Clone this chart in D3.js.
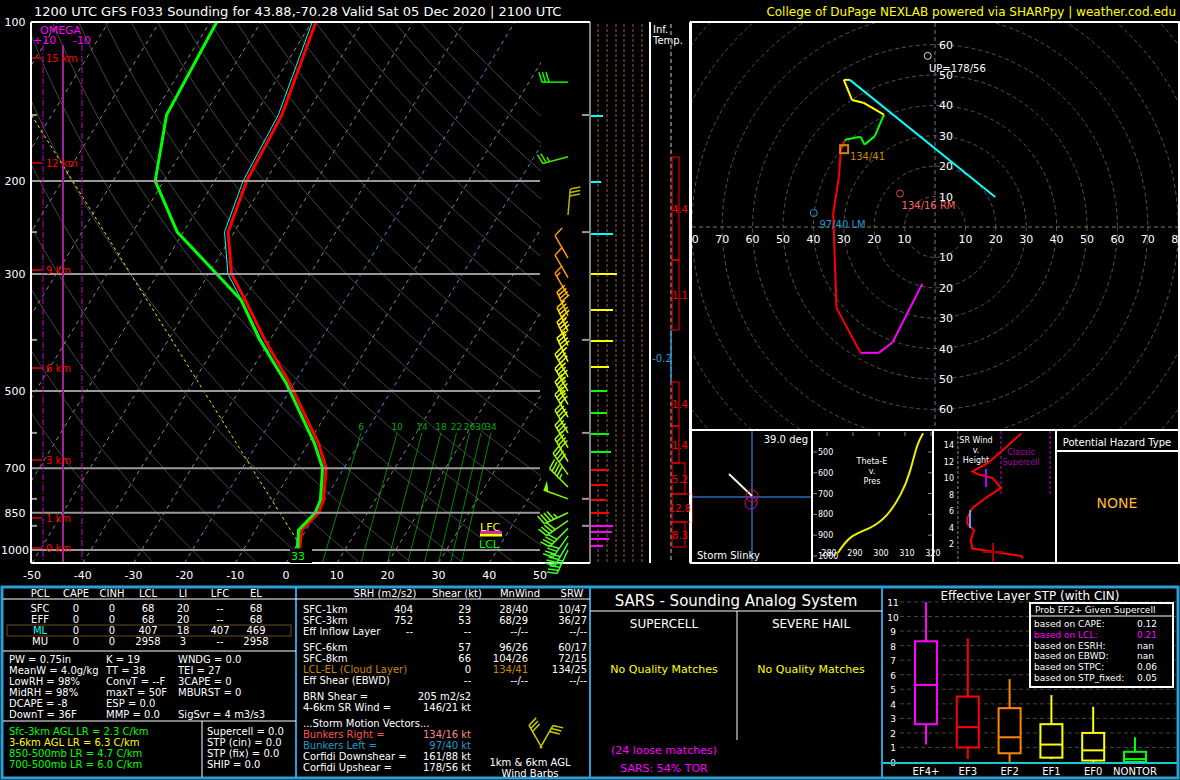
<!DOCTYPE html>
<html><head><meta charset="utf-8">
<script src="https://cdn.jsdelivr.net/npm/d3@7"></script>
<style>body{margin:0;background:#000}svg{display:block}text{font-family:"DejaVu Sans",sans-serif}</style>
</head><body>
<svg id="c" width="1180" height="780"></svg>
<script>
// sounding profile (mb, degC)
var pres   = [990, 986, 917, 850, 804, 700, 628, 483, 400, 336, 300, 250, 200, 150, 100];
var temp   = [0.6, 0.8, -0.9, 0.4, -0.2, -3.5, -8, -20.9, -31, -39.7, -45.5, -51.2, -53.7, -54.7, -59.2];
var dwpt   = [0.2, 0.4, -1.5, -0.3, -0.8, -4.2, -8.8, -21.6, -32, -40.5, -48.4, -61.2, -71.7, -77.4, -78.7];
var parcelP = [979, 150];
var parcelT = [0.6, -104];
// hodograph (mb, u, v kt) and colour per segment
var windP = [1000, 950, 900, 850, 700, 600, 550, 500, 470, 450, 420, 400, 370, 320, 290, 260, 230, 200, 100];
var windU = [-4.2, -14, -18.5, -24.5, -32.4, -33.5, -31.6, -31, -29.7, -29.3, -24.5, -23.2, -19.8, -16.8, -23.6, -27.3, -30, -28, 19.8];
var windV = [-18.7, -38, -41.4, -41.4, -26.6, 4.4, 16.5, 25.3, 28.4, 28.8, 29.7, 27.1, 29.9, 37, 40.9, 41.8, 48.4, 48.4, 9.9];
var windC = ["#f0f","#f0f","#f0f","#f0f","red","red","red","red","red","#0f0","#0f0","#0f0","#0f0","#0f0","yellow","yellow","yellow","yellow","cyan"];
// wind barbs as drawn on the skew-T (mb, staff angle deg clockwise from up, kt)
var barbP   = [130, 180, 232, 280, 305, 330, 360, 385, 410, 440, 470, 500, 530, 560, 600, 640, 680, 720, 760, 800, 850, 880, 910, 940, 970, 1000];
var barbAng = [270, 255, 5, 330, 330, 330, 335, 335, 335, 335, 330, 330, 330, 330, 330, 330, 330, 325, 315, 290, 245, 235, 225, 215, 210, 205];
var barbSpd = [30, 25, 30, 10, 10, 15, 40, 45, 45, 45, 45, 45, 45, 40, 40, 40, 40, 40, 45, 50, 45, 40, 40, 40, 40, 45];
var heightKm = [0, 1, 3, 6, 9, 12, 15];
var heightY  = [548, 518, 460, 368, 270, 163, 58];
// theta-e profile
var teP = [985, 900, 870, 815, 700, 600, 460, 410];
var teK = [284.2, 288.8, 296.5, 303, 308.8, 312, 314.6, 317];
// SR wind vs height
var srH = [0.3, 0.6, 1.5, 2.5, 3.7, 4.5, 5.2, 6.4, 7.9, 8.8, 10, 10.5, 10.8, 11.8, 13.2, 15.4];
var srS = [51, 50, 21, 20, 22, 18, 18, 21, 31, 38, 33, 24, 21, 30, 38, 50];
// STP box plots
var efCats = ["EF4+", "EF3", "EF2", "EF1", "EF0", "NONTOR"];
var efLo  = [1.2, 0.2, 0, 0.2, 0, 0];
var efQ1  = [2.6, 1.0, 0.6, 0.3, 0.1, 0];
var efMed = [5.3, 2.4, 1.7, 1.2, 0.8, 0.2];
var efQ3  = [8.3, 4.5, 3.7, 2.6, 2.0, 0.7];
var efHi  = [11, 8.5, 5.7, 4.6, 3.8, 1.7];
var efCol = ["#f0f", "red", "#f80", "yellow", "yellow", "#0f0"];
// inferred temp advection layers (pixel rows of the column)
var advVal = ["4.4", "1.1", "-0.2", "1.4", "1.4", "5.2", "12.8", "8.3"];
var advTopAll = [157, 260, 330, 382, 426, 463, 494, 522];
var advBotAll = [260, 330, 382, 426, 463, 494, 522, 547];
var advW = [7, 7, 0, 7, 7, 13, 20, 13];
// parcel column ticks
var tickY = [116, 182, 234, 274, 310, 341, 367, 391, 413, 434, 452, 470, 485, 500, 513, 526, 532, 539, 546];
var tickL = [12, 10, 22, 26, 22, 22, 18, 16, 16, 18, 20, 18, 16, 15, 18, 22, 21, 18, 12];
var tickC = ["cyan","cyan","cyan","yellow","yellow","yellow","yellow","#0f0","#0f0","#0f0","#0f0","red","red","red","red","#f0f","#f0f","#f0f","#f0f"];

var svg = d3.select("#c");
svg.append("rect").attr("width",1180).attr("height",780).attr("fill","#000");
function txt(g, x, y, s, col, size, anchor) {
  return g.append("text").attr("x",x).attr("y",y).text(s).attr("fill",col||"#fff")
    .attr("font-size",size||11).attr("text-anchor",anchor||"start");
}
txt(svg, 34, 16, "1200 UTC GFS F033 Sounding for 43.88,-70.28 Valid  Sat 05 Dec 2020 | 2100 UTC", "#fff", 13);
txt(svg, 1176, 16, "College of DuPage NEXLAB powered via SHARPpy | weather.cod.edu", "#ff0", 12, "end");

// ---------- skew-T ----------
var yP = d3.scaleLog().domain([100, 1000]).range([22, 550]);
var xT = d3.scaleLinear().domain([-50, 50]).range([32, 540]);
var skew = 0.611, baseY = 563;
function sx(t, p) { return xT(t) + skew * (baseY - yP(p)); }
var sk = svg.append("g");
sk.append("defs").append("clipPath").attr("id","skc").append("rect").attr("x",31).attr("y",22).attr("width",510).attr("height",541);
var skc = sk.append("g").attr("clip-path","url(#skc)");
var pLev = d3.range(100, 1060, 10);
d3.range(-160, 60, 10).forEach(function(t) {
  skc.append("line").attr("x1",sx(t,1058)).attr("y1",baseY).attr("x2",sx(t,100)).attr("y2",22)
    .attr("stroke", (t==0||t==-20) ? "#3a8fd8" : "#888").attr("stroke-dasharray","4,4").attr("stroke-width",1);
});
d3.range(-30, 200, 10).forEach(function(th) {
  var line = d3.line().x(function(p){ return sx((th+273.15)*Math.pow(p/1000,0.286)-273.15, p); }).y(function(p){ return yP(p); });
  skc.append("path").attr("d", line(pLev)).attr("fill","none").attr("stroke","#555").attr("stroke-width",0.8);
});
var mixW = [6, 10, 14, 18, 22, 26, 30, 34];
function tmix(w, p) { var e = w*p/(622+w); var l = Math.log(e/6.112); return 243.5*l/(17.67-l); }
mixW.forEach(function(w) {
  skc.append("line").attr("x1",sx(tmix(w,1058),1058)).attr("y1",baseY).attr("x2",sx(tmix(w,600),600)).attr("y2",yP(600))
    .attr("stroke","#0a0").attr("stroke-width",0.8);
  txt(skc, sx(tmix(w,600),600), yP(600)-3, w, "#0a0", 9, "middle");
});
[100, 200, 300, 500, 700, 850, 1000].forEach(function(p) {
  sk.append("line").attr("x1",31).attr("x2",540).attr("y1",yP(p)).attr("y2",yP(p)).attr("stroke","#999").attr("stroke-width",2);
  txt(sk, 15, yP(p)+4, p, "#fff", 11, "middle");
});
[150, 250, 400, 600, 800, 900].forEach(function(p) {
  sk.append("line").attr("x1",31).attr("x2",37).attr("y1",yP(p)).attr("y2",yP(p)).attr("stroke","#999").attr("stroke-width",2);
  sk.append("line").attr("x1",582).attr("x2",589).attr("y1",yP(p)).attr("y2",yP(p)).attr("stroke","#999").attr("stroke-width",2);
});
sk.append("line").attr("x1",63).attr("x2",63).attr("y1",45).attr("y2",563).attr("stroke","#a020a0").attr("stroke-width",2);
[43, 82].forEach(function(x){ sk.append("line").attr("x1",x).attr("x2",x).attr("y1",45).attr("y2",563).attr("stroke","#c0c").attr("stroke-dasharray","6,2,1,2"); });
txt(sk, 40, 34, "OMEGA", "#f0f", 11);
txt(sk, 33, 44, "+10", "#f0f", 11); txt(sk, 73, 44, "-10", "#f0f", 11);
heightKm.forEach(function(h, i) {
  sk.append("line").attr("x1",31).attr("x2",42).attr("y1",heightY[i]).attr("y2",heightY[i]).attr("stroke","#a00").attr("stroke-width",2);
  txt(sk, 46, heightY[i]+4, h + " km", "red", 10);
});
skc.append("path").attr("d", d3.line().x(function(d,i){return sx(parcelT[i],d);}).y(function(d){return yP(d);})(parcelP))
  .attr("fill","none").attr("stroke","#ee0").attr("stroke-dasharray","3,3");
var prof = d3.line().x(function(d){return sx(d[1],d[0]);}).y(function(d){return yP(d[0]);});
skc.append("path").attr("d", prof(pres.map(function(p,i){return [p,temp[i]];}))).attr("fill","none").attr("stroke","red").attr("stroke-width",3);
skc.append("path").attr("d", prof(pres.map(function(p,i){return [p,temp[i]-0.7];}))).attr("fill","none").attr("stroke","cyan").attr("stroke-width",1);
skc.append("path").attr("d", prof(pres.map(function(p,i){return [p,dwpt[i]];}))).attr("fill","none").attr("stroke","#0f0").attr("stroke-width",3);
sk.append("line").attr("x1",31).attr("x2",590).attr("y1",22).attr("y2",22).attr("stroke","#fff").attr("stroke-width",2);
sk.append("line").attr("x1",31).attr("x2",31).attr("y1",22).attr("y2",563).attr("stroke","#fff").attr("stroke-width",2);
sk.append("line").attr("x1",31).attr("x2",590).attr("y1",563).attr("y2",563).attr("stroke","#fff").attr("stroke-width",2);
d3.range(-50, 60, 10).forEach(function(t){ txt(sk, xT(t), 579, t, "#fff", 11, "middle"); });
sk.append("rect").attr("x",290).attr("y",549).attr("width",22).attr("height",14).attr("fill","#000");
txt(sk, 298, 560, "33", "#0f0", 11, "middle");
sk.append("line").attr("x1",480).attr("x2",502).attr("y1",535).attr("y2",535).attr("stroke","#ff0").attr("stroke-width",3);
sk.append("line").attr("x1",480).attr("x2",502).attr("y1",532).attr("y2",532).attr("stroke","#f0f").attr("stroke-width",2);
txt(sk, 480, 531, "LFC", "#ff0", 11); txt(sk, 479, 548, "LCL", "#0f0", 11);
// wind barb: staff from station along angle, barbs at far end on clockwise side
function barb(g, x, y, angDeg, spd, col) {
  var a = angDeg*Math.PI/180, dx = Math.sin(a), dy = -Math.cos(a), L = 26;
  var ex = x + dx*L, ey = y + dy*L, px = -dy, py = dx;
  g.append("line").attr("x1",x).attr("y1",y).attr("x2",ex).attr("y2",ey).attr("stroke",col).attr("stroke-width",1.5);
  var s = Math.round(spd/5)*5, pos = 0;
  while (s >= 50) { var bx = ex - dx*pos, by = ey - dy*pos;
    g.append("path").attr("d","M"+bx+","+by+"L"+(bx+px*10)+","+(by+py*10)+"L"+(bx-dx*5)+","+(by-dy*5)+"Z").attr("fill",col); s -= 50; pos += 6; }
  while (s >= 10) { var bx2 = ex - dx*pos, by2 = ey - dy*pos;
    g.append("line").attr("x1",bx2).attr("y1",by2).attr("x2",bx2+px*10+dx*3).attr("y2",by2+py*10+dy*3).attr("stroke",col).attr("stroke-width",1.5); s -= 10; pos += 3.5; }
  if (s >= 5) { var bx3 = ex - dx*pos, by3 = ey - dy*pos;
    g.append("line").attr("x1",bx3).attr("y1",by3).attr("x2",bx3+px*5+dx*1.5).attr("y2",by3+py*5+dy*1.5).attr("stroke",col).attr("stroke-width",1.5); }
}
var barbCol = d3.scaleLinear().domain([1000, 800, 600, 420, 330, 260, 150]).range(["#3f3", "#8f0", "#bf0", "#ff0", "#f90", "#f90", "#0f0"]);
barbP.forEach(function(p, i){ barb(sk, 568, yP(p), barbAng[i], barbSpd[i], barbCol(p)); });

// ---------- side columns ----------
var sc = svg.append("g");
[590, 650, 690].forEach(function(x){ sc.append("line").attr("x1",x).attr("x2",x).attr("y1",22).attr("y2",563).attr("stroke","#fff").attr("stroke-width",x==590?1:2); });
[598, 607, 616, 624, 633, 642].forEach(function(x){ sc.append("line").attr("x1",x).attr("x2",x).attr("y1",24).attr("y2",562).attr("stroke","#6a3d24").attr("stroke-dasharray","3,2").attr("stroke-width",1.5); });
tickY.forEach(function(y, i){ sc.append("line").attr("x1",591).attr("x2",591+tickL[i]).attr("y1",y).attr("y2",y).attr("stroke",tickC[i]).attr("stroke-width",2); });
txt(sc, 653, 33, "Inf.", "#fff", 10); txt(sc, 653, 44, "Temp.", "#fff", 10);
sc.append("line").attr("x1",671).attr("x2",671).attr("y1",24).attr("y2",562).attr("stroke","#888").attr("stroke-dasharray","4,3").attr("stroke-width",1.5);
advVal.forEach(function(v, i){
  if (advW[i] == 0) {
    sc.append("line").attr("x1",671).attr("x2",671).attr("y1",advTopAll[i]).attr("y2",advBotAll[i]).attr("stroke","#39c").attr("stroke-width",1.5);
    txt(sc, 662, 362, v, "#39c", 10, "middle");
    return;
  }
  sc.append("rect").attr("x",672).attr("y",advTopAll[i]).attr("width",advW[i]).attr("height",advBotAll[i]-advTopAll[i]).attr("fill","none").attr("stroke","red");
  txt(sc, 680, (advTopAll[i]+advBotAll[i])/2+4, v, "red", 10, "middle");
});

// ---------- hodograph ----------
var hg = svg.append("g");
var hx0 = 935, hy0 = 227, kt = 3.04;
hg.append("defs").append("clipPath").attr("id","hc").append("rect").attr("x",692).attr("y",23).attr("width",486).attr("height",406);
var hc = hg.append("g").attr("clip-path","url(#hc)");
d3.range(10, 130, 10).forEach(function(r){ hc.append("circle").attr("cx",hx0).attr("cy",hy0).attr("r",r*kt).attr("fill","none").attr("stroke","#555").attr("stroke-dasharray","4,3"); });
hc.append("line").attr("x1",692).attr("x2",1178).attr("y1",hy0).attr("y2",hy0).attr("stroke","#777").attr("stroke-dasharray","4,3");
hc.append("line").attr("x1",hx0).attr("x2",hx0).attr("y1",23).attr("y2",429).attr("stroke","#777").attr("stroke-dasharray","4,3");
d3.range(10, 90, 10).forEach(function(r){
  txt(hc, hx0 - r*kt, hy0+16, r, "#fff", 11, "middle"); txt(hc, hx0 + r*kt, hy0+16, r, "#fff", 11, "middle");
  if (r <= 60) { txt(hc, hx0+4, hy0 - r*kt + 4, r, "#fff", 11); txt(hc, hx0+4, hy0 + r*kt + 4, r, "#fff", 11); }
});
for (var i = 0; i < windP.length-1; i++) {
  hc.append("line").attr("x1",hx0+windU[i]*kt).attr("y1",hy0-windV[i]*kt).attr("x2",hx0+windU[i+1]*kt).attr("y2",hy0-windV[i+1]*kt)
    .attr("stroke", windC[i+1]).attr("stroke-width",2);
}
hc.append("circle").attr("cx",hx0-2.4*kt).attr("cy",hy0-56.3*kt).attr("r",3.5).attr("fill","none").attr("stroke","#ddd");
txt(hc, hx0-2*kt, hy0-51*kt, "UP=178/56", "#fff", 10);
hc.append("circle").attr("cx",hx0-11.5*kt).attr("cy",hy0-11*kt).attr("r",3.5).attr("fill","none").attr("stroke","#d44");
txt(hc, hx0-11*kt, hy0-6*kt, "134/16 RM", "#f66", 10);
hc.append("circle").attr("cx",hx0-39.9*kt).attr("cy",hy0-4.6*kt).attr("r",3.5).attr("fill","none").attr("stroke","#29c");
txt(hc, hx0-38*kt, hy0+1, "97/40 LM", "#29c", 10);
hc.append("rect").attr("x",hx0-29.9*kt-4).attr("y",hy0-25.6*kt-4).attr("width",8).attr("height",8).attr("fill","none").attr("stroke","#c80").attr("stroke-width",2);
txt(hc, hx0-28*kt, hy0-22*kt, "134/41", "#c80", 10);
hg.append("rect").attr("x",691).attr("y",22).attr("width",488).attr("height",408).attr("fill","none").attr("stroke","#fff").attr("stroke-width",2);

// ---------- small panels ----------
var sp = svg.append("g");
sp.append("rect").attr("x",691).attr("y",430).attr("width",488).attr("height",133).attr("fill","none").attr("stroke","#fff").attr("stroke-width",2);
[812, 933, 1056].forEach(function(x){ sp.append("line").attr("x1",x).attr("x2",x).attr("y1",430).attr("y2",563).attr("stroke","#fff").attr("stroke-width",2); });
sp.append("line").attr("x1",692).attr("x2",811).attr("y1",497).attr("y2",497).attr("stroke","#1d4f8f").attr("stroke-width",2);
sp.append("line").attr("x1",752).attr("x2",752).attr("y1",431).attr("y2",562).attr("stroke","#1d4f8f").attr("stroke-width",2);
sp.append("line").attr("x1",729).attr("x2",752).attr("y1",474).attr("y2",496).attr("stroke","#eee").attr("stroke-width",2);
sp.append("circle").attr("cx",752).attr("cy",496).attr("r",6).attr("fill","none").attr("stroke","red");
sp.append("circle").attr("cx",751).attr("cy",503).attr("r",6).attr("fill","none").attr("stroke","#c0c");
txt(sp, 808, 443, "39.0 deg", "#fff", 10, "end"); txt(sp, 697, 559, "Storm Slinky", "#fff", 10);
var tx = d3.scaleLinear().domain([280, 320]).range([827, 931]);
var tp = d3.scaleLinear().domain([500, 1000]).range([452, 556]);
[500, 600, 700, 800, 900, 1000].forEach(function(p){
  txt(sp, 818, tp(p)+3, p, "#fff", 8);
  sp.append("line").attr("x1",813).attr("x2",817).attr("y1",tp(p)).attr("y2",tp(p)).attr("stroke","#888");
  sp.append("line").attr("x1",928).attr("x2",932).attr("y1",tp(p)).attr("y2",tp(p)).attr("stroke","#888");
});
[280, 290, 300, 310, 320].forEach(function(k){ txt(sp, tx(k)+2, 556, k, "#fff", 8, "middle"); sp.append("line").attr("x1",tx(k)).attr("x2",tx(k)).attr("y1",432).attr("y2",436).attr("stroke","#888"); });
sp.append("path").attr("d", d3.line().curve(d3.curveBasis).x(function(d,i){return tx(teK[i]);}).y(function(d){return tp(d);})(teP)).attr("fill","none").attr("stroke","#ee0").attr("stroke-width",2);
txt(sp, 872, 464, "Theta-E", "#fff", 8, "middle"); txt(sp, 872, 474, "v.", "#fff", 8, "middle"); txt(sp, 872, 484, "Pres", "#fff", 8, "middle");
var wx = d3.scaleLinear().domain([0, 70]).range([937, 1055]);
var wy = d3.scaleLinear().domain([0, 14]).range([561, 445]);
[2,4,6,8,10,12,14].forEach(function(h){ txt(sp, 954, wy(h)+3, h, "#fff", 8, "end"); });
sp.append("line").attr("x1",wx(12.4)).attr("x2",wx(12.4)).attr("y1",431).attr("y2",562).attr("stroke","#888").attr("stroke-dasharray","3,2");
sp.append("line").attr("x1",1001).attr("x2",1001).attr("y1",431).attr("y2",494).attr("stroke","#606").attr("stroke-dasharray","3,2").attr("stroke-width",2);
sp.append("line").attr("x1",1050).attr("x2",1050).attr("y1",431).attr("y2",494).attr("stroke","#606").attr("stroke-dasharray","3,2").attr("stroke-width",2);
txt(sp, 1021, 455, "Classic", "#a0a", 8, "middle"); txt(sp, 1021, 465, "Supercell", "#a0a", 8, "middle");
txt(sp, 976, 443, "SR Wind", "#fff", 8, "middle"); txt(sp, 976, 453, "v.", "#fff", 8, "middle"); txt(sp, 976, 463, "Height", "#fff", 8, "middle");
sp.append("path").attr("d", d3.line().x(function(d){return wx(d);}).y(function(d,i){return wy(srH[i]);})(srS)).attr("fill","none").attr("stroke","red").attr("stroke-width",2);
sp.append("line").attr("x1",986).attr("x2",986).attr("y1",469).attr("y2",487).attr("stroke","#a0f").attr("stroke-width",2);
sp.append("line").attr("x1",970).attr("x2",970).attr("y1",510).attr("y2",528).attr("stroke","#69f").attr("stroke-width",2);
sp.append("line").attr("x1",993).attr("x2",993).attr("y1",543).attr("y2",562).attr("stroke","#a00").attr("stroke-width",2);
sp.append("line").attr("x1",983).attr("x2",1003).attr("y1",552).attr("y2",552).attr("stroke","#a00").attr("stroke-width",2);
sp.append("line").attr("x1",1056).attr("x2",1179).attr("y1",451).attr("y2",451).attr("stroke","#fff").attr("stroke-width",2);
txt(sp, 1117, 446, "Potential Hazard Type", "#fff", 10, "middle");
txt(sp, 1117, 508, "NONE", "#fb3", 14, "middle");

// ---------- bottom tables ----------
var bt = svg.append("g");
bt.append("rect").attr("x",2).attr("y",587).attr("width",1176).attr("height",191).attr("fill","none").attr("stroke","#2a9fd6").attr("stroke-width",3);
[296, 590, 882].forEach(function(x){ bt.append("line").attr("x1",x).attr("x2",x).attr("y1",587).attr("y2",778).attr("stroke","#2a9fd6").attr("stroke-width",2); });
bt.append("line").attr("x1",3).attr("x2",296).attr("y1",599).attr("y2",599).attr("stroke","#fff");
bt.append("line").attr("x1",3).attr("x2",296).attr("y1",651).attr("y2",651).attr("stroke","#fff");
bt.append("line").attr("x1",3).attr("x2",296).attr("y1",721).attr("y2",721).attr("stroke","#fff");
bt.append("line").attr("x1",202).attr("x2",202).attr("y1",721).attr("y2",777).attr("stroke","#fff");
bt.append("line").attr("x1",296).attr("x2",590).attr("y1",599).attr("y2",599).attr("stroke","#fff");
var pclHead = ["PCL","CAPE","CINH","LCL","LI","LFC","EL"];
var pclX = [40, 76, 112, 148, 183, 220, 256];
var pclRows = [["SFC","0","0","68","20","--","68"],["EFF","0","0","68","20","--","68"],["ML","0","0","407","18","407","469"],["MU","0","0","2958","3","--","2958"]];
pclHead.forEach(function(h,i){ txt(bt, pclX[i], 597, h, "#fff", 10, "middle"); });
bt.append("rect").attr("x",7).attr("y",625).attr("width",284).attr("height",11).attr("fill","none").attr("stroke","#6b4a2a");
pclRows.forEach(function(r,j){ r.forEach(function(v,i){ txt(bt, pclX[i], 612+j*11, v, (j==2&&i==0)?"cyan":"#fff", 10, "middle"); }); });
var idx = [["PW = 0.75in","K = 19","WNDG = 0.0"],["MeanW = 4.0g/kg","TT = 38","TEI = 27"],["LowRH = 98%","ConvT = --F","3CAPE = 0"],["MidRH = 98%","maxT = 50F","MBURST = 0"],["DCAPE = -8","ESP = 0.0",""],["DownT = 36F","MMP = 0.0","SigSvr = 4 m3/s3"]];
idx.forEach(function(r,j){ [9,106,178].forEach(function(x,i){ txt(bt, x, 663+j*11, r[i], "#fff", 10); }); });
var lr = ["Sfc-3km AGL LR = 2.3 C/km","3-6km AGL LR = 6.3 C/km","850-500mb LR = 4.7 C/km","700-500mb LR = 6.0 C/km"];
var lrC = ["#0f0","#ff0","#0f0","#0f0"];
lr.forEach(function(s,j){ txt(bt, 9, 735+j*11, s, lrC[j], 10); });
["Supercell = 0.0","STP (cin) = 0.0","STP (fix) = 0.0","SHIP = 0.0"].forEach(function(s,j){ txt(bt, 207, 735+j*11, s, "#fff", 10); });
[["SRH (m2/s2)",385],["Shear (kt)",457],["MnWind",520],["SRW",572]].forEach(function(h){ txt(bt, h[1], 597, h[0], "#fff", 10, "middle"); });
var kin = [["SFC-1km","404","29","28/40","10/47",613],["SFC-3km","752","53","68/29","36/27",624],["Eff Inflow Layer","--","--","--/--","--/--",635],
  ["SFC-6km","","57","96/26","60/17",651],["SFC-8km","","66","104/26","72/15",662],["LCL-EL (Cloud Layer)","","0","134/41","134/25",673],["Eff Shear (EBWD)","","--","--/--","--/--",684]];
kin.forEach(function(r){
  txt(bt, 303, r[5], r[0], r[0].indexOf("LCL")==0 ? "#c80" : "#fff", 10);
  txt(bt, 413, r[5], r[1], "#fff", 10, "end"); txt(bt, 471, r[5], r[2], "#fff", 10, "end");
  txt(bt, 528, r[5], r[3], r[0].indexOf("LCL")==0 ? "#c80" : "#fff", 10, "end"); txt(bt, 587, r[5], r[4], "#fff", 10, "end");
});
var sm = [["BRN Shear =","205 m2/s2","#fff","#fff",700],["4-6km SR Wind =","146/21 kt","#fff","#fff",711],["...Storm Motion Vectors...","","#fff","#fff",727],
  ["Bunkers Right =","134/16 kt","#f55","#f88",738],["Bunkers Left =","97/40 kt","#29c","#29c",749],["Corfidi Downshear =","161/88 kt","#fff","#fff",760],["Corfidi Upshear =","178/56 kt","#fff","#fff",771]];
sm.forEach(function(r){ txt(bt, 303, r[4], r[0], r[2], 10); txt(bt, 471, r[4], r[1], r[3], 10, "end"); });
barb(bt, 540, 748, 30, 30, "#cc0");
barb(bt, 542, 748, 330, 30, "#cc0");
txt(bt, 530, 766, "1km & 6km AGL", "#fff", 10, "middle"); txt(bt, 530, 777, "Wind Barbs", "#fff", 10, "middle");
txt(bt, 736, 606, "SARS - Sounding Analog System", "#fff", 15, "middle");
bt.append("line").attr("x1",590).attr("x2",882).attr("y1",611).attr("y2",611).attr("stroke","#fff");
bt.append("line").attr("x1",737).attr("x2",737).attr("y1",611).attr("y2",740).attr("stroke","#fff");
txt(bt, 664, 628, "SUPERCELL", "#fff", 12, "middle"); txt(bt, 811, 628, "SEVERE HAIL", "#fff", 12, "middle");
txt(bt, 664, 673, "No Quality Matches", "#ff0", 11, "middle"); txt(bt, 811, 673, "No Quality Matches", "#ff0", 11, "middle");
txt(bt, 664, 754, "(24 loose matches)", "#f0f", 11, "middle"); txt(bt, 664, 772, "SARS: 54% TOR", "#f0f", 11, "middle");
var stpY = d3.scaleLinear().domain([0, 11]).range([762, 602]);
var stpX = d3.scalePoint().domain(efCats).range([926, 1135]);
txt(bt, 1030, 600, "Effective Layer STP (with CIN)", "#fff", 12, "middle");
d3.range(0, 12).forEach(function(v){
  txt(bt, 893, stpY(v)+4, v, "#fff", 9, "middle");
  if (v > 0) bt.append("line").attr("x1",900).attr("x2",1176).attr("y1",stpY(v)).attr("y2",stpY(v)).attr("stroke","#444").attr("stroke-dasharray","4,3");
});
efCats.forEach(function(c, i){
  var x = stpX(c), g = bt.append("g").attr("stroke",efCol[i]).attr("stroke-width",2).attr("fill","none");
  g.append("line").attr("x1",x).attr("x2",x).attr("y1",stpY(efLo[i])).attr("y2",stpY(efHi[i]));
  g.append("rect").attr("x",x-11).attr("y",stpY(efQ3[i])).attr("width",22).attr("height",stpY(efQ1[i])-stpY(efQ3[i])).attr("fill","#000");
  g.append("line").attr("x1",x-11).attr("x2",x+11).attr("y1",stpY(efMed[i])).attr("y2",stpY(efMed[i]));
  txt(bt, x, 775, c, "#fff", 10, "middle");
});
bt.append("line").attr("x1",883).attr("x2",1177).attr("y1",763).attr("y2",763).attr("stroke","#1cc").attr("stroke-width",2);
bt.append("rect").attr("x",1030).attr("y",603).attr("width",143).attr("height",84).attr("fill","#000").attr("stroke","#fff").attr("stroke-width",2);
bt.append("line").attr("x1",1030).attr("x2",1173).attr("y1",616).attr("y2",616).attr("stroke","#fff");
txt(bt, 1035, 613, "Prob EF2+ Given Supercell", "#fff", 9);
var prob = [["based on CAPE:","0.12"],["based on LCL:","0.21"],["based on ESRH:","nan"],["based on EBWD:","nan"],["based on STPC:","0.06"],["based on STP_fixed:","0.05"]];
prob.forEach(function(r,j){ var c = j==1 ? "#f0f" : "#fff"; txt(bt, 1034, 627+j*10.8, r[0], c, 9); txt(bt, 1137, 627+j*10.8, r[1], c, 9); });
</script>
</body></html>
